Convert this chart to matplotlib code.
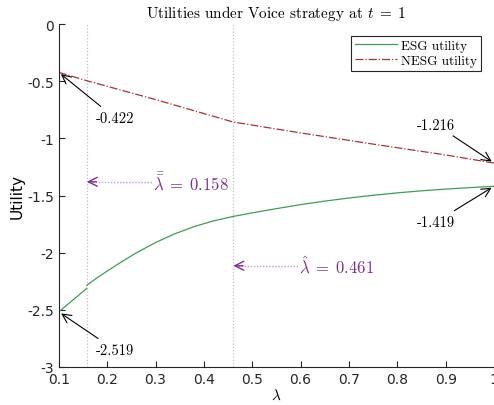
import numpy as np
import matplotlib.pyplot as plt

plt.rcParams['mathtext.fontset'] = 'cm'

# utility curves (lambda on x)
esg_x1 = [0.1, 0.12, 0.14, 0.158]
esg_y1 = [-2.519, -2.447, -2.377, -2.312]
esg_x2 = [0.158, 0.18, 0.2, 0.23, 0.26, 0.3, 0.34, 0.38, 0.42, 0.461]
esg_y2 = [-2.285, -2.218, -2.162, -2.08, -2.003, -1.912, -1.835, -1.772, -1.722, -1.683]
esg_x3 = [0.461, 0.5, 0.55, 0.6, 0.65, 0.7, 0.75, 0.8, 0.85, 0.9, 0.95, 1.0]
esg_y3 = [-1.683, -1.652, -1.615, -1.58, -1.549, -1.522, -1.498, -1.477, -1.459, -1.444, -1.431, -1.419]

nesg_x = [0.1, 0.158, 0.3, 0.461, 0.6, 0.75, 0.9, 1.0]
nesg_y = [-0.422, -0.495, -0.66, -0.857, -0.952, -1.05, -1.145, -1.216]

lam_bar = 0.158
lam_hat = 0.461

green = '#3f9d55'
dred = '#a83232'
purple = '#7e2f8e'
serif = 'cmr10'

fig = plt.figure(figsize=(4.94, 4.06), dpi=100)
ax = fig.add_axes([0.119, 0.094, 0.881, 0.844])

for v in (lam_bar, lam_hat):
    ax.axvline(v, color='#d2b2dc', lw=0.9, dashes=(1, 1.6))

ax.plot(esg_x1, esg_y1, color=green, lw=0.9, label='ESG utility')
ax.plot(esg_x2, esg_y2, color=green, lw=0.9)
ax.plot(esg_x3, esg_y3, color=green, lw=0.9)
ax.plot(nesg_x, nesg_y, color=dred, lw=0.9, ls='-.', label='NESG utility')

ax.set_xlim(0.1, 1)
ax.set_ylim(-3, 0)
ax.set_xticks(np.arange(0.1, 1.01, 0.1))
ax.set_xticklabels(['0.1', '0.2', '0.3', '0.4', '0.5', '0.6', '0.7', '0.8', '0.9', '1'])
ax.set_yticks(np.arange(-3, 0.01, 0.5))
ax.set_yticklabels(['-3', '-2.5', '-2', '-1.5', '-1', '-0.5', '0'])
ax.tick_params(direction='in', labelsize=10, colors='#262626', length=4)
for s in ['top', 'right']:
    ax.spines[s].set_visible(False)
for s in ['left', 'bottom']:
    ax.spines[s].set_color('#262626')

ax.set_xlabel(r'$\lambda$', fontsize=11, labelpad=1)
ax.set_ylabel('Utility', fontsize=11, labelpad=2)
ax.set_title(r'Utilities under Voice strategy at $t\;=\;1$', fontfamily=serif, fontsize=11, pad=5)

leg = ax.legend(loc='upper right', bbox_to_anchor=(0.985, 0.985), prop={'family': serif, 'size': 9.5},
                fancybox=False, edgecolor='#262626', framealpha=1, handlelength=3.2,
                borderpad=0.3, labelspacing=0.2, handletextpad=0.3)
leg.get_frame().set_linewidth(0.8)

# end-point values
arw = dict(arrowstyle='->', color='k', lw=0.8, mutation_scale=16)
ax.annotate('-0.422', xy=(0.1, nesg_y[0]), xytext=(0.176, -0.82), fontfamily=serif, fontsize=10.5,
            arrowprops=arw, ha='left', va='center')
ax.annotate('-2.519', xy=(0.1, esg_y1[0]), xytext=(0.176, -2.85), fontfamily=serif, fontsize=10.5,
            arrowprops=arw, ha='left', va='center')
ax.annotate('-1.216', xy=(1.0, nesg_y[-1]), xytext=(0.92, -0.88), fontfamily=serif, fontsize=10.5,
            arrowprops=arw, ha='right', va='center')
ax.annotate('-1.419', xy=(1.0, esg_y3[-1]), xytext=(0.92, -1.73), fontfamily=serif, fontsize=10.5,
            arrowprops=arw, ha='right', va='center')

# threshold labels with dotted pointers
for lam, y, x_txt, lab in [(lam_bar, -1.38, 0.294, r'$\bar{\bar{\lambda}}\;=\;0.158$'),
                           (lam_hat, -2.115, 0.596, r'$\hat{\lambda}\;=\;0.461$')]:
    ax.plot([lam + 0.004, x_txt], [y, y], color='#c29ccd', lw=1.0, dashes=(1, 1.2))
    ax.annotate('', xy=(lam, y), xytext=(lam + 0.02, y),
                arrowprops=dict(arrowstyle='->', color=purple, lw=1.0, mutation_scale=16,
                                shrinkA=0, shrinkB=0))
    ax.text(x_txt, y, lab, color=purple, fontsize=12, ha='left', va='center')

fig.savefig('out.png')
